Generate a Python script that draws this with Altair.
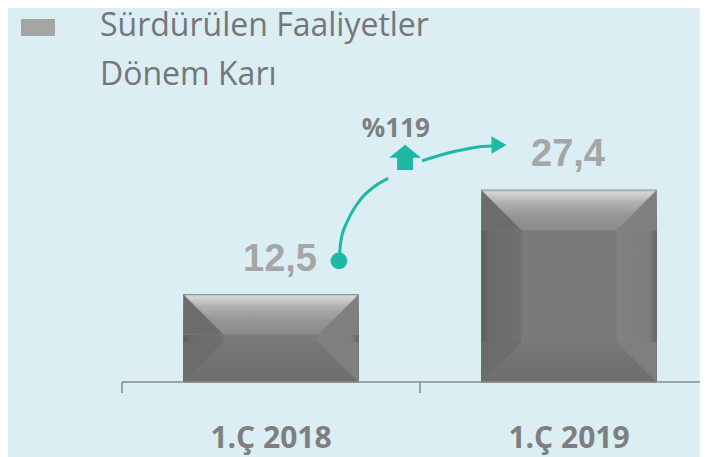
import altair as alt
import pandas as pd

# ---- data ----
categories = ["1.Ç 2018", "1.Ç 2019"]
values = [12.5, 27.4]
value_labels = ["12,5", "27,4"]
label_dx = [9, -1]
legend_lines = ["Sürdürülen Faaliyetler", "Dönem Karı"]
growth_label = "%119"

# category boundaries (axis ticks) in category-position units
boundaries = [0, 1, 2]

# growth arrow annotation, in (category position, value) units
arc1_x = [0.728, 0.735, 0.758, 0.799, 0.846, 0.893]
arc1_y = [17.3, 20.3, 23.1, 26.0, 27.9, 29.1]
arc2_x = [1.007, 1.067, 1.134, 1.201, 1.242]
arc2_y = [31.6, 32.4, 33.1, 33.6, 33.7]
dot_x, dot_y = [0.728], [17.3]
head_x, head_y = [1.265], [33.86]
icon_x, icon_y = [0.950], [32.07]
growth_x, growth_y = [0.919], [35.0]

bars = pd.DataFrame({"cat": categories, "v": values, "lbl": value_labels, "zero": [0, 0]})
arcs = pd.DataFrame({
    "x": arc1_x + arc2_x,
    "y": arc1_y + arc2_y,
    "seg": ["a"] * len(arc1_x) + ["b"] * len(arc2_x),
    "o": list(range(len(arc1_x))) + list(range(len(arc2_x))),
})
dot = pd.DataFrame({"x": dot_x, "y": dot_y})
head = pd.DataFrame({"x": head_x, "y": head_y})
icon = pd.DataFrame({"x": icon_x, "y": icon_y})
growth = pd.DataFrame({"x": growth_x, "y": growth_y, "t": [growth_label]})
ticks = pd.DataFrame({"x": boundaries, "y": [0] * len(boundaries)})
domain = pd.DataFrame({"x": [min(boundaries)], "x2": [max(boundaries)], "y": [0]})
legend_df = pd.DataFrame({"t": legend_lines})

TEAL = "#1db9a6"
BG = "#dbeef4"
AX = "#898989"

band_scale = alt.Scale(range=[114, 710], paddingInner=0.413, paddingOuter=0.2065)
y_scale = alt.Scale(domain=[0, 50], range=[374, 24])
q_scale = alt.Scale(domain=[0, 2], range=[114, 710])

x_band = alt.X("cat:N", sort=categories, scale=band_scale, axis=None)
y_v = alt.Y("v:Q", scale=y_scale, axis=None)
y_zero = alt.Y("zero:Q", scale=y_scale, axis=None)
xq = alt.X("x:Q", scale=q_scale, axis=None)
yq = alt.Y("y:Q", scale=y_scale, axis=None)

def grad(stops, x1=0, y1=0, x2=1, y2=0):
    return {"gradient": "linear", "x1": x1, "y1": y1, "x2": x2, "y2": y2,
            "stops": [{"offset": o, "color": c} for o, c in stops]}

TR = "rgba(108,108,108,0)"
TRR = "rgba(127,127,127,0)"
LEFT = "#6c6c6c"
RIGHT = "#7f7f7f"

base_fill = grad([(0, "#5e5e5e"), (0.04, "#696969"), (0.228, "#717171"), (0.229, "#7a7a7a"),
                  (0.771, "#7a7a7a"), (0.772, "#818181"), (0.96, "#7d7d7d"), (1, "#666666")])
top_fill = grad([(0, "#bdbdbd"), (0.06, "#d6d6d6"), (0.3, "#b0b0b0"), (0.65, "#959595"), (1, "#8b8b8b")],
                0, 0, 0, 1)
bottom_fill = grad([(0, "#777777"), (1, "#6e6e6e")], 0, 0, 0, 1)

src = alt.Chart(bars)
base = src.mark_bar(fill=base_fill, stroke="#666666", strokeWidth=1).encode(x=x_band, y=y_v, y2=alt.Y2("zero:Q"))
bottom = src.mark_bar(fill=bottom_fill, y2Offset=-40).encode(x=x_band, y=y_zero, y2=alt.Y2("zero:Q"))
top = src.mark_bar(fill=top_fill, y2Offset=40).encode(x=x_band, y=y_v, y2=alt.Y2("v:Q"))

half = 175 / 2 - 20
a, b = 0.485, 0.515
c_tl = src.mark_bar(width=40, xOffset=-half, y2Offset=40,
                    fill=grad([(0, TR), (a, TR), (b, LEFT), (1, LEFT)], 1, 0, 0, 1)
                    ).encode(x=x_band, y=y_v, y2=alt.Y2("v:Q"))
c_tr = src.mark_bar(width=40, xOffset=half, y2Offset=40,
                    fill=grad([(0, TRR), (a, TRR), (b, RIGHT), (1, RIGHT)], 0, 0, 1, 1)
                    ).encode(x=x_band, y=y_v, y2=alt.Y2("v:Q"))
c_bl = src.mark_bar(width=40, xOffset=-half, y2Offset=-40,
                    fill=grad([(0, LEFT), (a, LEFT), (b, TR), (1, TR)], 0, 0, 1, 1)
                    ).encode(x=x_band, y=y_zero, y2=alt.Y2("zero:Q"))
c_br = src.mark_bar(width=40, xOffset=half, y2Offset=-40,
                    fill=grad([(0, RIGHT), (a, RIGHT), (b, TRR), (1, TRR)], 1, 0, 0, 1)
                    ).encode(x=x_band, y=y_zero, y2=alt.Y2("zero:Q"))

lbl_style = dict(font="Liberation Sans", fontWeight="bold", fontSize=38, color="#a6a6a6",
                 baseline="alphabetic", align="center", dy=-24)
lbl1 = src.mark_text(dx=label_dx[0], **lbl_style).encode(
    x=x_band, y=y_v, text="lbl:N",
    opacity=alt.condition(alt.datum.cat == categories[0], alt.value(1), alt.value(0)))
lbl2 = src.mark_text(dx=label_dx[1], **lbl_style).encode(
    x=x_band, y=y_v, text="lbl:N",
    opacity=alt.condition(alt.datum.cat == categories[1], alt.value(1), alt.value(0)))

cat_labels = src.mark_text(font="Open Sans", fontWeight="bold", fontSize=30, color="#7f7f7f",
                           baseline="alphabetic", align="center", dy=66).encode(
    x=x_band, y=y_zero, text="cat:N")

band_layers = alt.layer(base, bottom, top, c_tl, c_tr, c_bl, c_br, lbl1, lbl2, cat_labels)

domain_layer = alt.Chart(domain).mark_rule(color=AX, strokeWidth=1.5).encode(x=xq, x2="x2:Q", y=yq)
tick_layer = alt.Chart(ticks).mark_rule(color=AX, strokeWidth=1.5, y2Offset=11).encode(x=xq, y=yq, y2="y:Q")
arc_layer = alt.Chart(arcs).mark_line(color=TEAL, strokeWidth=3, interpolate="monotone").encode(
    x=xq, y=yq, detail="seg:N", order="o:Q")
dot_layer = alt.Chart(dot).mark_point(shape="circle", filled=True, size=280, color=TEAL, opacity=1).encode(x=xq, y=yq)
head_layer = alt.Chart(head).mark_point(shape="triangle-right", filled=True, size=300, color=TEAL, opacity=1).encode(x=xq, y=yq)
icon_layer = alt.Chart(icon).mark_point(
    shape="M0,-0.8 L1,0.02 L0.5,0.02 L0.5,0.78 L-0.5,0.78 L-0.5,0.02 L-1,0.02 Z",
    filled=True, size=1024, color=TEAL, opacity=1, strokeWidth=0).encode(x=xq, y=yq)
growth_layer = alt.Chart(growth).mark_text(font="Open Sans", fontWeight="bold", fontSize=26,
                                           color="#7f7f7f", baseline="alphabetic", align="center").encode(
    x=xq, y=yq, text="t:N")

leg_src = alt.Chart(legend_df)
leg_sq = leg_src.mark_rect(color="#a5a5a5").encode(
    x=alt.value(13), x2=alt.value(47), y=alt.value(11), y2=alt.value(28))
leg_t1 = leg_src.transform_filter(alt.datum.t == legend_lines[0]).mark_text(
    font="Open Sans", fontSize=32, color="#767676", align="left", baseline="alphabetic").encode(
    x=alt.value(92), y=alt.value(28), text="t:N")
leg_t2 = leg_src.transform_filter(alt.datum.t == legend_lines[1]).mark_text(
    font="Open Sans", fontSize=32, color="#767676", align="left", baseline="alphabetic").encode(
    x=alt.value(92), y=alt.value(77), text="t:N")

quant_layers = alt.layer(domain_layer, tick_layer, arc_layer, dot_layer, head_layer, icon_layer,
                         growth_layer, leg_sq, leg_t1, leg_t2)

chart = alt.layer(band_layers, quant_layers).resolve_scale(x="independent").properties(
    width=692, height=449, padding=0,
    autosize=alt.AutoSizeParams(type="none"),
    background=BG,
).configure_view(stroke=None)

chart.save("out.html", embed_options={"renderer": "svg", "actions": False})
